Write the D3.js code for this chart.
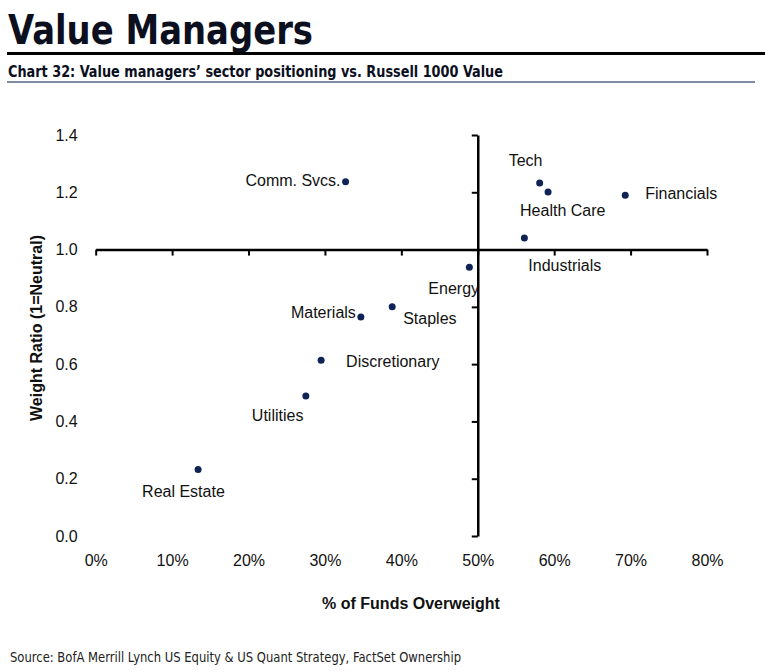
<!DOCTYPE html>
<html>
<head>
<meta charset="utf-8">
<script src="https://cdn.jsdelivr.net/npm/d3@7"></script>
<style>
  html, body { margin: 0; padding: 0; background: #fff; }
  svg { display: block; }
</style>
</head>
<body>
<svg id="chart" width="765" height="672"></svg>
<script>
// ---- data ----
const sectors = ["Comm. Svcs.", "Tech", "Health Care", "Financials", "Industrials", "Energy",
                 "Materials", "Staples", "Discretionary", "Utilities", "Real Estate"];
const pctOverweight = [0.327, 0.581, 0.592, 0.693, 0.561, 0.489, 0.347, 0.388, 0.295, 0.275, 0.134];
const weightRatio   = [1.237, 1.232, 1.201, 1.190, 1.040, 0.938, 0.765, 0.800, 0.614, 0.489, 0.232];
const xTicks = [0, 0.1, 0.2, 0.3, 0.4, 0.5, 0.6, 0.7, 0.8];
const yTicks = [0, 0.2, 0.4, 0.6, 0.8, 1.0, 1.2, 1.4];

// label placement (offsets from the point, text anchor)
const labelPlacement = {
  "Comm. Svcs.":   { dx: -5,  dy: -1, anchor: "end" },
  "Tech":          { dx: -31, dy: -23, anchor: "start" },
  "Health Care":   { dx: -28, dy: 18, anchor: "start" },
  "Financials":    { dx: 20,  dy: -2, anchor: "start" },
  "Industrials":   { dx: 4,   dy: 27, anchor: "start" },
  "Energy":        { dx: -41, dy: 21, anchor: "start" },
  "Materials":     { dx: -5,  dy: -4, anchor: "end" },
  "Staples":       { dx: 11,  dy: 12, anchor: "start" },
  "Discretionary": { dx: 25,  dy: 1, anchor: "start" },
  "Utilities":     { dx: -54, dy: 19, anchor: "start" },
  "Real Estate":   { dx: -56, dy: 22, anchor: "start" }
};

const points = sectors.map((s, i) => ({ name: s, x: pctOverweight[i], y: weightRatio[i] }));

const svg = d3.select("#chart");
const sans = "'Liberation Sans', Arial, Helvetica, sans-serif";
const cond = "'Liberation Sans Narrow', 'DejaVu Sans Condensed', 'Roboto Condensed', sans-serif";

// ---- header ----
svg.append("text")
  .attr("x", 8).attr("y", 44)
  .attr("font-family", cond).attr("font-weight", "bold").attr("font-size", 40)
  .attr("textLength", 305).attr("lengthAdjust", "spacingAndGlyphs")
  .attr("fill", "#0b0f1e")
  .text("Value Managers");
svg.append("rect").attr("x", 7).attr("y", 52).attr("width", 758).attr("height", 3).attr("fill", "#000");
svg.append("text")
  .attr("x", 8).attr("y", 77)
  .attr("font-family", cond).attr("font-weight", "bold").attr("font-size", 15)
  .attr("textLength", 495).attr("lengthAdjust", "spacingAndGlyphs")
  .attr("fill", "#0b0f1e")
  .text("Chart 32: Value managers\u2019 sector positioning vs. Russell 1000 Value");
svg.append("rect").attr("x", 7).attr("y", 81).attr("width", 748).attr("height", 2).attr("fill", "#7d8ca3");

// ---- scales ----
const x = d3.scaleLinear().domain([0, 0.8]).range([95.7, 707]);
const y = d3.scaleLinear().domain([0, 1.4]).range([536, 135]);

// crossing axes (no labels)
const gx = svg.append("g").attr("transform", `translate(0,${y(1)})`)
  .call(d3.axisBottom(x).tickValues(xTicks).tickSize(6).tickFormat("").tickSizeOuter(0));
const gy = svg.append("g").attr("transform", `translate(${x(0.5)},0)`)
  .call(d3.axisLeft(y).tickValues(yTicks).tickSize(6).tickFormat("").tickSizeOuter(0));
[gx, gy].forEach(g => {
  g.select(".domain").attr("stroke", "#000").attr("stroke-width", 2.5);
  g.selectAll(".tick line").attr("stroke", "#000").attr("stroke-width", 2);
});

// label axes (at bottom and left, no lines)
const lx = svg.append("g").attr("transform", `translate(0,${y(0)})`)
  .call(d3.axisBottom(x).tickValues(xTicks).tickSize(0).tickPadding(19).tickFormat(d3.format(".0%")));
const ly = svg.append("g").attr("transform", `translate(${x(0)},0)`)
  .call(d3.axisLeft(y).tickValues(yTicks).tickSize(0).tickPadding(18).tickFormat(d3.format(".1f")));
[lx, ly].forEach(g => {
  g.select(".domain").remove();
  g.selectAll(".tick text").attr("font-family", sans).attr("font-size", 16).attr("fill", "#111");
});

// axis titles
svg.append("text")
  .attr("x", 411).attr("y", 609)
  .attr("text-anchor", "middle")
  .attr("font-family", sans).attr("font-weight", "bold").attr("font-size", 16).attr("fill", "#111")
  .text("% of Funds Overweight");
svg.append("text")
  .attr("transform", "translate(42,328) rotate(-90)")
  .attr("text-anchor", "middle")
  .attr("font-family", sans).attr("font-weight", "bold").attr("font-size", 16).attr("fill", "#111")
  .text("Weight Ratio (1=Neutral)");

// ---- points ----
svg.append("g").selectAll("circle").data(points).join("circle")
  .attr("cx", d => x(d.x)).attr("cy", d => y(d.y)).attr("r", 3.5)
  .attr("fill", "#0f2454");

svg.append("g").selectAll("text").data(points).join("text")
  .attr("x", d => x(d.x) + labelPlacement[d.name].dx)
  .attr("y", d => y(d.y) + labelPlacement[d.name].dy)
  .attr("dy", "0.35em")
  .attr("text-anchor", d => labelPlacement[d.name].anchor)
  .attr("font-family", sans).attr("font-size", 16).attr("fill", "#111")
  .text(d => d.name);

// ---- source ----
svg.append("text")
  .attr("x", 10).attr("y", 662)
  .attr("font-family", cond).attr("font-size", 13.5)
  .attr("textLength", 451).attr("lengthAdjust", "spacingAndGlyphs")
  .attr("fill", "#222")
  .text("Source:  BofA Merrill Lynch US Equity & US Quant Strategy, FactSet Ownership");
</script>
</body>
</html>
